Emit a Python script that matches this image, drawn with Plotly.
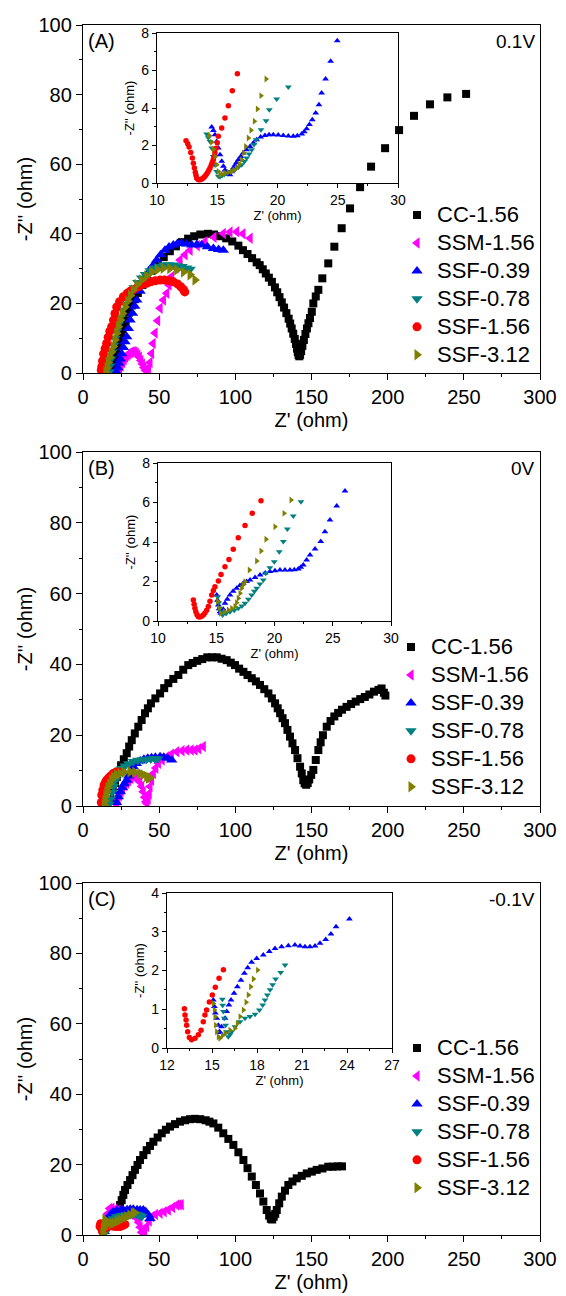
import plotly.graph_objects as go

FONT = "Liberation Sans, Arial, sans-serif"
OFF = 8  # the page places the plot 8 px in from the top-left corner
W, H = 566 - OFF, 1296 - OFF

SERIES = ["CC-1.56", "SSM-1.56", "SSF-0.39", "SSF-0.78", "SSF-1.56", "SSF-3.12"]
COLORS = ["#000000", "#FF00FF", "#0000FF", "#008080", "#FF0000", "#808000"]
SYMBOLS = ["square", "triangle-left", "triangle-up", "triangle-down", "circle", "triangle-right"]
MAIN_SIZE = [8, 10, 10, 10, 9, 10]
INSET_SIZE = [5, 6, 6, 6, 5.5, 6]

# ---------------- Panel A (0.1 V) main: (Z', -Z'') ----------------
A_CC = [(18,1),(19,2.5),(20,4),(21,5.5),(22,7),(23,8.5),(24,10),(25,11.3),(26,12.6),(27,13.8),(28,15),(30,17.3),
        (32,19.4),(34,21.2),(36,23),(39,25.3),(42,27.5),(45,29.4),(49,31.5),(53,33.3),(57,35),(61,36.4),(65,37.6),
        (69,38.6),(73,39.3),(77,39.8),(82,40),(86,39.8),(90,39.3),(94,38.7),(98,37.8),(102,36.6),(105,35.3),(108,34.2),
        (111,33),(114,31.8),(116,31),(118,29.8),(120,28.6),(122,27.4),(124,26.2),(126,24.6),(127.5,23.2),(129,21.8),
        (130.5,20.3),(132,18.8),(133.5,17.2),(135,15.6),(136,14.2),(137,12.8),(138,11.3),(139,9.8),(139.8,8.4),
        (140.5,7),(141,6),(141.5,5.2),(142,4.8),(142.5,5.2),(143.2,6.3),(144,7.8),(145,9.5),(146,11.2),(147,12.8),
        (148,14.3),(149,15.8),(150.2,17.6),(151.2,20),(152.8,22),(154.5,23.9),(157.1,27.2),(161,31.5),(165,36.3),
        (169.8,41.6),(175.3,47.3),(181.9,53.4),(189.1,59.3),(198.3,64.6),(207.5,69.8),(217.3,73.9),(227.8,77.2),
        (239.2,79.2),(251.5,80.2)]
A_SSM = [(24,1),(25,2),(26,3),(27,3.8),(28,4.5),(29,5),(30,5.5),(31,5.8),(32,6),(33,6.1),(34,6),(35,5.7),(36,5.2),
         (37,4.5),(38,3.6),(39,2.6),(40,1.6),(41,0.8),(42,0.5),(43,1.5),(44,3),(45,5.6),(46,8.5),(47.3,11.5),(49,15),
         (50.6,18.6),(52.8,21),(55,22.9),(56.5,25.3),(58.2,27.7),(61,30.2),(63.7,32.5),(67,34),(70.3,35.3),(75,36.6),
         (80.1,37.7),(86,39),(92.1,40.1),(96.5,40.5),(100.9,40.6),(105,40),(109.7,38.7)]
A_039 = [(22,0.3),(22.8,1.5),(23.6,2.8),(24.5,4),(25.4,5.5),(26.5,7.3),(27.6,9),(28.7,10.4),(29.8,12.8),(30.9,15.2),
         (32.5,17.2),(34,19.2),(35.3,21),(37.5,23.5),(39.6,25.8),(41.8,27.7),(44,29.6),(46.2,31),(48.4,32.5),(51,34),
         (53.8,35.3),(56.5,36.2),(59.3,36.8),(62,37.2),(64.8,37.3),(68,37.1),(71.4,36.8),(74.7,36.9),(77.9,36.8),
         (81.7,36.3),(85.6,35.8),(89,35.5),(92.1,35.3)]
A_078 = [(17,0.3),(17.5,2),(18.2,4),(19,6),(20,8),(21,10),(22,12),(23.2,14),(24.5,16),(26,18),(27.6,19.8),(29.5,21.5),
         (31.5,23),(33.5,24.5),(36,26),(38.5,27.3),(41,28.3),(44,29.4),(47,30.2),(50,30.7),(53,31),(56,31.1),(59,31),
         (62,30.8),(65,30.6),(68,30.2),(70.3,29.8)]
A_156 = [(12,0.8),(12.3,1.8),(12.8,3.5),(13.5,5.5),(14.5,7),(15.5,8.5),(16.5,10.3),(17.6,12),(18.8,13.3),(20,15.2),
         (21,17.1),(22.1,19),(24,20.5),(26.5,21.9),(29,22.9),(31,23.5),(33,23.9),(36,24.7),(39,25.4),(41.8,25.8),
         (44.5,26.2),(47.5,26.5),(50.6,26.7),(53.5,26.7),(56.5,26.5),(59.3,26.2),(62,25.6),(64.2,24.8),(65.9,24),
         (66.8,23.3)]
A_312 = [(15,0.3),(15.8,1.5),(16.6,3),(17.5,4.5),(18.6,6),(19.9,7.6),(21,9.5),(22.1,11.4),(23.2,13.3),(24.6,15.2),
         (26,17.1),(27.6,19),(29.4,20.7),(31.2,22.3),(33,23.9),(35.5,25.4),(38.5,26.7),(41.8,27.9),(45.1,29.1),
         (48.8,29.7),(52.7,30.1),(57,30),(61.5,29.6),(66,29),(70.3,28.2),(73.5,26.7)]

# Panel A inset
IA_156 = [(12.41,2.26),(12.55,2.1),(12.66,1.92),(12.8,1.63),(12.93,1.33),(13.02,1.05),(13.1,0.8),(13.18,0.58),
          (13.24,0.42),(13.29,0.27),(13.38,0.2),(13.47,0.17),(13.57,0.18),(13.68,0.2),(13.78,0.24),(13.88,0.29),
          (13.98,0.36),(14.09,0.45),(14.2,0.56),(14.3,0.68),(14.4,0.8),(14.5,0.95),(14.58,1.1),(14.67,1.24),
          (14.74,1.42),(14.81,1.6),(14.9,1.85),(15.0,2.15),(15.09,2.49),(15.37,2.93),(15.64,3.47),(15.92,4.12),
          (16.25,4.92),(16.67,5.83)]
IA_039 = [(14.54,2.99),(14.68,2.8),(14.81,2.58),(14.95,2.22),(15.09,1.87),(15.23,1.51),(15.37,1.16),(15.51,0.89),
          (15.64,0.7),(15.78,0.53),(15.92,0.47),(16.06,0.44),(16.2,0.6),(16.33,0.8),(16.47,0.95),(16.61,1.1),
          (16.75,1.24),(16.95,1.42),(17.16,1.6),(17.44,1.78),(17.72,1.95),(18.0,2.13),(18.27,2.31),(18.6,2.45),
          (18.96,2.54),(19.3,2.57),(19.65,2.58),(20.06,2.56),(20.48,2.54),(20.9,2.51),(21.31,2.49),(21.65,2.52),
          (22.01,2.61),(22.22,2.73),(22.42,2.9),(22.65,3.12),(22.89,3.38),(23.17,3.73),(23.44,4.18),(23.66,4.8),
          (23.99,5.55),(24.41,6.49),(24.96,7.59)]
IA_078 = [(14.12,2.61),(14.26,2.42),(14.4,2.22),(14.54,1.87),(14.67,1.42),(14.81,0.98),(14.95,0.62),(15.09,0.36),
          (15.23,0.33),(15.4,0.4),(15.58,0.46),(15.78,0.53),(16.1,0.62),(16.47,0.71),(16.75,0.84),(17.03,0.98),
          (17.25,1.15),(17.44,1.33),(17.65,1.55),(17.86,1.78),(18.05,2.05),(18.22,2.31),(18.63,2.84),(19.05,3.32),
          (19.32,3.91),(19.93,4.48),(20.9,5.12)]
IA_312 = [(14.34,2.54),(14.54,2.17),(14.68,1.8),(14.81,1.42),(14.95,0.98),(15.09,0.62),(15.23,0.44),(15.4,0.47),
          (15.64,0.53),(15.92,0.58),(16.2,0.62),(16.4,0.7),(16.61,0.8),(16.82,1.0),(17.03,1.24),(17.2,1.6),
          (17.36,1.95),(17.58,2.4),(17.8,2.81),(18.08,3.29),(18.33,3.95),(18.63,4.66),(19.05,5.55)]

# ---------------- Panel B (0 V) main ----------------
B_CC = [(18,2),(19.5,4.5),(21,6.5),(22.2,8.2),(23.2,9.7),(25,11.5),(26.8,13.2),(28.7,14.9),(30.3,16.8),(32,18.6),
        (34,20.5),(36.3,22.4),(38.5,24.3),(40.7,26.2),(42.6,27.6),(44.6,29),(47.5,30.4),(50.6,31.8),(53.3,33.3),
        (56,34.7),(59.3,35.9),(62.6,37),(65.8,38.5),(69.1,39.8),(72,40.4),(75,41),(78.3,41.5),(81.6,42),(84.7,42),
        (87.8,42),(91,41.6),(94.3,41.2),(97,40.5),(99.8,39.8),(102.5,38.8),(105.3,37.9),(108,37),(110.8,36.1),
        (113.5,35.2),(116.2,34.2),(119,33),(121.7,31.8),(124,30.4),(126.1,29),(127.8,27.6),(129.4,26.2),(131,24.8),
        (132.6,23.4),(134.2,21.5),(135.9,19.6),(137.5,17.7),(139.2,15.8),(140.8,13.5),(142.5,11.1),(143.6,9.2),
        (144.6,7.3),(145.5,6.4),(146.5,6),(147.5,6.5),(148.5,7.5),(149.8,8.8),(151.2,10.2),(152.8,13),(154.5,15.8),
        (156,18),(157.5,20),(160,22.4),(162.5,24),(165,25.3),(167.5,26.3),(170,27.2),(173,28),(176,28.8),(179,29.5),
        (182,30.2),(185,30.8),(188,31.5),(191,32.3),(194,32.8),(196,33.2),(197.5,32),(198.5,31.2)]
B_SSM = [(22,0.5),(23,1.8),(24,3),(25,4),(26,5),(27.5,5.8),(28.7,6.4),(30,7.2),(31.5,7.8),(33,8.3),(34.5,8.2),(36,7.6),
         (37.3,6.8),(38.5,5.5),(39.5,4),(40.5,2.5),(41.3,1.2),(42,0.7),(42.8,2),(43.5,3.5),(44,5.5),(45,7.3),(46.2,9.2),
         (47.8,10.7),(49.5,12.1),(52,13),(55,13.9),(58,14.6),(61.5,15.3),(65,15.6),(68.1,15.8),(71,15.8),(73.5,15.8),
         (76,16.2),(79,16.8)]
B_039 = [(22,1),(23.2,2.6),(24.5,4),(25.8,5.2),(27.2,6.3),(28.7,7.3),(30,8.5),(31.5,9.8),(33,11.1),(35,12),(37.5,12.7),
         (40,13.2),(42.5,13.5),(45,13.6),(47.5,13.8),(50.6,13.9),(53,13.8),(55.5,13.5),(58.2,13)]
B_078 = [(17,0.5),(18,2),(19,3.8),(20,5.5),(21.2,7.2),(22.5,8.7),(24,9.8),(25.4,10.6),(27.5,11.3),(30,11.9),(33,12.6),
         (36,12.9),(39,13.1),(41.8,13.2),(44.5,13.3),(47,13.4),(49,13.3)]
B_156 = [(12,1),(12.3,3.1),(13,4.5),(13.8,5.8),(14.6,6.6),(15.5,7.3),(16.8,7.9),(18.2,8.5),(19.9,9.2),(21.5,9.5),(23,9.6)]
B_312 = [(14,0.3),(14.4,1.5),(15,2.8),(15.7,4),(16.5,5.2),(17.5,6.3),(18.8,7.4),(20.2,8.2),(22,8.8),(24.3,9.2),(27,9.5),
         (30.9,9.7),(34,9.5),(37.4,9.2),(39.5,8.8),(41.8,8.3),(43,7.9),(44,8)]

# Panel B inset
IB_156 = [(13.03,1.06),(13.1,0.85),(13.17,0.65),(13.25,0.47),(13.35,0.32),(13.46,0.22),(13.6,0.2),(13.75,0.24),
          (13.89,0.3),(14.03,0.4),(14.18,0.55),(14.32,0.73),(14.46,1.0),(14.61,1.32),(14.75,1.55),(14.89,1.74),
          (15.18,2.03),(15.41,2.36),(15.75,2.75),(16.09,3.12),(16.46,3.63),(16.89,4.22),(17.47,4.83),(18.09,5.45),
          (18.84,6.09)]
IB_039 = [(15.04,1.32),(15.11,1.05),(15.18,0.81),(15.25,0.62),(15.32,0.47),(15.4,0.4),(15.47,0.39),(15.6,0.6),
          (15.75,0.9),(15.95,1.1),(16.18,1.32),(16.45,1.5),(16.75,1.66),(17.03,1.8),(17.32,1.91),(17.6,2.0),(17.9,2.08),
          (18.33,2.2),(18.76,2.33),(19.2,2.43),(19.61,2.5),(20.04,2.55),(20.47,2.58),(20.9,2.58),(21.33,2.58),
          (21.7,2.6),(22.04,2.63),(22.25,2.72),(22.47,2.84),(22.76,3.09),(23.05,3.34),(23.48,3.65),(23.97,4.02),
          (24.33,4.52),(24.76,5.11),(25.34,5.82),(26.05,6.58)]
IB_078 = [(15.12,1.23),(15.22,0.93),(15.32,0.64),(15.43,0.45),(15.55,0.3),(15.85,0.38),(16.18,0.47),(16.55,0.55),
          (16.89,0.64),(17.2,0.76),(17.47,0.9),(17.76,1.1),(18.04,1.32),(18.27,1.5),(18.47,1.66),(18.75,1.87),
          (19.04,2.08),(19.24,2.42),(19.6,2.7),(19.98,3.0),(20.41,3.51),(20.76,4.02),(21.1,4.66),(21.61,5.32),
          (22.27,6.04)]
IB_312 = [(15.12,1.0),(15.25,0.65),(15.38,0.39),(15.7,0.47),(16.04,0.56),(16.33,0.64),(16.61,0.73),(16.75,0.93),
          (16.89,1.15),(17.04,1.4),(17.18,1.66),(17.32,1.83),(17.47,1.99),(17.84,2.58),(18.47,3.04),(18.84,3.54),
          (19.27,4.14),(20.04,4.77),(20.82,5.45),(21.42,6.13)]

# ---------------- Panel C (-0.1 V) main ----------------
C_CC = [(16.6,5.2),(18,5.4),(19.9,5.7),(21.5,6.3),(23.2,7.1),(24.3,8.5),(25.4,9.9),(26.5,11.4),(27.6,12.8),(29.2,14.2),
        (30.9,15.6),(32.5,17),(34.1,18.5),(35.8,19.9),(37.4,21.3),(39.6,22.7),(41.8,24.1),(44,25.3),(46.2,26.5),
        (49,27.7),(51.7,28.9),(54.4,29.9),(57.1,30.8),(60.4,31.5),(63.7,32.2),(67,32.6),(70.3,32.9),(73.5,33),(77,32.9),
        (80.5,32.6),(83,32.2),(85.6,31.7),(88.8,30.5),(92.1,28.9),(95.4,27.3),(98.7,25.6),(102,23.5),(105.3,21.3),
        (108,19),(110.8,16.6),(113.5,14.2),(116.2,11.8),(118.4,9.5),(120.6,7.1),(122.2,5.5),(123.3,4.6),(124.2,4.4),
        (125.2,5.2),(126.2,6),(127.2,7.1),(128.8,9),(130.5,10.9),(132.6,12.6),(134.8,14.2),(137.5,15.2),(140.3,16.1),
        (143.6,16.8),(146.9,17.5),(150.2,18),(153.4,18.5),(157.2,18.9),(161,19.4),(164,19.4),(167,19.5),(170,19.5)]
C_SSM = [(14,2),(15,4),(16,6),(17.5,7.5),(19,7.6),(21,7.3),(23,7),(25,6.8),(27,6.6),(29,6.3),(31,6),(33,5.6),(35,4.8),
         (36.5,3.6),(37.5,2.2),(38.5,0.8),(39.5,0.5),(40.5,1.2),(41.8,2.4),(43.5,4),(45.1,5.2),(47.5,5.8),(50.6,6.2),
         (53.3,6.6),(56,7.1),(58.8,7.8),(61.5,8.5),(63,8.6),(64.5,8.6)]
C_039 = [(14,1),(15,3),(16.5,4.8),(18,5.9),(19.9,6.6),(22,6.9),(24.5,7),(26.5,7.1),(29,7.2),(31,7.3),(33,7.3),(35.5,7.2),
         (37.5,7.1),(39.6,7.1),(41.2,6.6),(42.9,5.7),(44,4.7)]
C_078 = [(15,1),(16.5,2.5),(18,3.6),(20,4.6),(22.1,5.2),(24.5,5.5),(26.5,5.6),(28.7,5.7),(31,5.8),(33,5.9),(35.3,5.9),
         (37,5.6),(38.5,5.2)]
C_156 = [(11.2,2.4),(11.6,3.2),(12.3,1.8),(12.8,1),(13.5,1.4),(14.5,2),(16,2.5),(18,2.6),(20,2.5),(22,2.4),(24.3,2.4),
         (26,2.7),(27.5,3)]
C_312 = [(13,0.5),(13.5,1.8),(14,3),(14.4,4.3),(15.5,4),(17,3.5),(18.8,3.3),(20.5,3.5),(22.5,3.9),(24.3,4.3),(26.5,4.8),
         (28.7,5.2),(30.8,5.7),(33,6.2),(34,6.3)]

# Panel C inset
IC_156 = [(13.16,1.01),(13.2,0.85),(13.27,0.72),(13.31,0.59),(13.38,0.42),(13.49,0.27),(13.64,0.21),(13.87,0.25),
          (14.09,0.34),(14.27,0.46),(14.42,0.68),(14.53,0.85),(14.64,0.98),(14.82,1.19),(15.02,1.37),(15.22,1.57),
          (15.47,1.8),(15.76,2.02)]
IC_039 = [(15.09,1.24),(15.16,1.07),(15.22,0.9),(15.31,0.77),(15.42,0.59),(15.49,0.42),(15.55,0.4),(15.64,0.55),
          (15.87,0.77),(15.98,0.94),(16.13,1.11),(16.27,1.24),(16.47,1.41),(16.69,1.58),(16.93,1.75),(17.16,1.93),
          (17.38,2.07),(17.64,2.21),(17.98,2.31),(18.42,2.4),(18.82,2.49),(19.2,2.57),(19.64,2.61),(20.09,2.64),
          (20.53,2.66),(20.87,2.63),(21.2,2.61),(21.53,2.61),(21.87,2.63),(22.2,2.7),(22.58,2.8),(22.93,2.94),
          (23.27,3.13),(24.16,3.33)]
IC_078 = [(15.69,1.26),(15.71,1.1),(15.76,0.94),(15.82,0.77),(15.91,0.59),(15.98,0.42),(16.09,0.29),(16.2,0.35),
          (16.31,0.42),(16.53,0.55),(16.87,0.68),(17.2,0.77),(17.53,0.81),(17.87,0.87),(18.16,0.98),(18.38,1.11),
          (18.53,1.24),(18.69,1.37),(18.87,1.5),(19.04,1.63),(19.24,1.78),(19.58,1.95),(19.87,2.14)]
IC_312 = [(15.09,1.15),(15.16,0.98),(15.2,0.8),(15.24,0.59),(15.31,0.42),(15.42,0.29),(15.53,0.25),(15.7,0.32),
          (15.87,0.38),(16.2,0.46),(16.53,0.51),(16.69,0.64),(16.87,0.81),(17.09,0.98),(17.27,1.18),(17.42,1.37),
          (17.58,1.58),(17.76,1.78),(18.04,2.01)]

MAIN_DATA = [[A_CC, A_SSM, A_039, A_078, A_156, A_312],
             [B_CC, B_SSM, B_039, B_078, B_156, B_312],
             [C_CC, C_SSM, C_039, C_078, C_156, C_312]]
INSET_DATA = [[None, None, IA_039, IA_078, IA_156, IA_312],
              [None, None, IB_039, IB_078, IB_156, IB_312],
              [None, None, IC_039, IC_078, IC_156, IC_312]]
PANEL_LABELS = ["(A)", "(B)", "(C)"]
VOLTAGES = ["0.1V", "0V", "-0.1V"]
INSET_X_RANGE = [[10, 30], [10, 30], [12, 27]]
INSET_X_DTICK = [5, 5, 3]
INSET_Y_RANGE = [[0, 8], [0, 8], [0, 4]]
INSET_Y_DTICK = [2, 2, 1]

# page-pixel geometry (left, right, top, bottom)
MAIN_BOX = [(83, 540, 25, 373), (83, 540, 452, 806), (83, 540, 883, 1235)]
INSET_BOX = [(157, 398, 33, 183), (158, 391, 463, 621), (167, 392, 893, 1048)]
LEGEND_POS = [(397, 196), (391, 628), (397, 1029)]


def fx(p):
    return (p - OFF) / W


def fy(p):
    return 1 - (p - OFF) / H


fig = go.Figure()
layout = dict(width=W, height=H, margin=dict(l=0, r=0, t=0, b=0, autoexpand=False), paper_bgcolor="white",
              plot_bgcolor="rgba(0,0,0,0)", font=dict(family=FONT, color="black"), annotations=[])

AX = dict(showline=True, linecolor="black", linewidth=1.3, mirror=True, showgrid=False, zeroline=False,
          ticks="outside", tickcolor="black", tickwidth=1.3, automargin=False)

for p in range(3):
    mi = 2 * p + 1
    ii = 2 * p + 2
    mx, my = ("x", "y") if mi == 1 else (f"x{mi}", f"y{mi}")
    ix, iy = f"x{ii}", f"y{ii}"
    lg = "legend" if p == 0 else f"legend{p + 1}"
    for k in range(6):
        d = MAIN_DATA[p][k]
        fig.add_trace(go.Scatter(x=[q[0] for q in d], y=[q[1] for q in d], mode="markers",
                                 name=f'<span style="font-size:22px">{SERIES[k]}</span>',
                                 marker=dict(symbol=SYMBOLS[k], color=COLORS[k], size=MAIN_SIZE[k], line=dict(width=0)),
                                 xaxis=mx, yaxis=my, legend=lg, showlegend=True))
    for k in range(6):
        d = INSET_DATA[p][k]
        if d is None:
            continue
        fig.add_trace(go.Scatter(x=[q[0] for q in d], y=[q[1] for q in d], mode="markers", name=SERIES[k],
                                 marker=dict(symbol=SYMBOLS[k], color=COLORS[k], size=INSET_SIZE[k], line=dict(width=0)),
                                 xaxis=ix, yaxis=iy, showlegend=False))

    l, r, t, b = MAIN_BOX[p]
    xk = "xaxis" if mi == 1 else f"xaxis{mi}"
    yk = "yaxis" if mi == 1 else f"yaxis{mi}"
    layout[xk] = dict(AX, domain=[fx(l), fx(r)], anchor=my, range=[0, 300], tick0=0, dtick=50, ticklen=6,
                      minor=dict(ticks="outside", ticklen=3, tickwidth=1.3, tickcolor="black", dtick=25, tick0=0),
                      tickfont=dict(size=20), title=dict(text="Z' (ohm)", font=dict(size=20), standoff=5))
    layout[yk] = dict(AX, domain=[fy(b), fy(t)], anchor=mx, range=[0, 100], tick0=0, dtick=20, ticklen=6,
                      minor=dict(ticks="outside", ticklen=3, tickwidth=1.3, tickcolor="black", dtick=10, tick0=0),
                      tickfont=dict(size=20), title=dict(text="-Z'' (ohm)", font=dict(size=20), standoff=0))

    l, r, t, b = INSET_BOX[p]
    xr = INSET_X_RANGE[p]
    yr = INSET_Y_RANGE[p]
    layout[f"xaxis{ii}"] = dict(AX, domain=[fx(l), fx(r)], anchor=iy, range=xr, tick0=xr[0], dtick=INSET_X_DTICK[p],
                                ticklen=4, linewidth=1.3,
                                minor=dict(ticks="outside", ticklen=2, tickcolor="black", dtick=INSET_X_DTICK[p] / 2,
                                           tick0=xr[0]),
                                tickfont=dict(size=14), title=dict(text="Z' (ohm)", font=dict(size=13), standoff=2))
    layout[f"yaxis{ii}"] = dict(AX, domain=[fy(b), fy(t)], anchor=ix, range=yr, tick0=0, dtick=INSET_Y_DTICK[p],
                                ticklen=4, linewidth=1.3,
                                minor=dict(ticks="outside", ticklen=2, tickcolor="black", dtick=INSET_Y_DTICK[p] / 2,
                                           tick0=0),
                                tickfont=dict(size=14), title=dict(text="-Z'' (ohm)", font=dict(size=13), standoff=3))

    lx, ly = LEGEND_POS[p]
    layout[lg] = dict(x=fx(lx), y=fy(ly), xanchor="left", yanchor="top", font=dict(size=19.2),
                      bgcolor="rgba(0,0,0,0)", tracegroupgap=0, itemwidth=30)

    l, r, t, b = MAIN_BOX[p]
    layout["annotations"].append(dict(text=PANEL_LABELS[p], x=fx(l + 3), y=fy(t + 16), xref="paper", yref="paper",
                                      xanchor="left", yanchor="middle", showarrow=False, font=dict(size=20)))
    layout["annotations"].append(dict(text=VOLTAGES[p], x=fx(r - 3), y=fy(t + 16), xref="paper", yref="paper",
                                      xanchor="right", yanchor="middle", showarrow=False, font=dict(size=19)))

fig.update_layout(**layout)
fig.write_html("out.html")
